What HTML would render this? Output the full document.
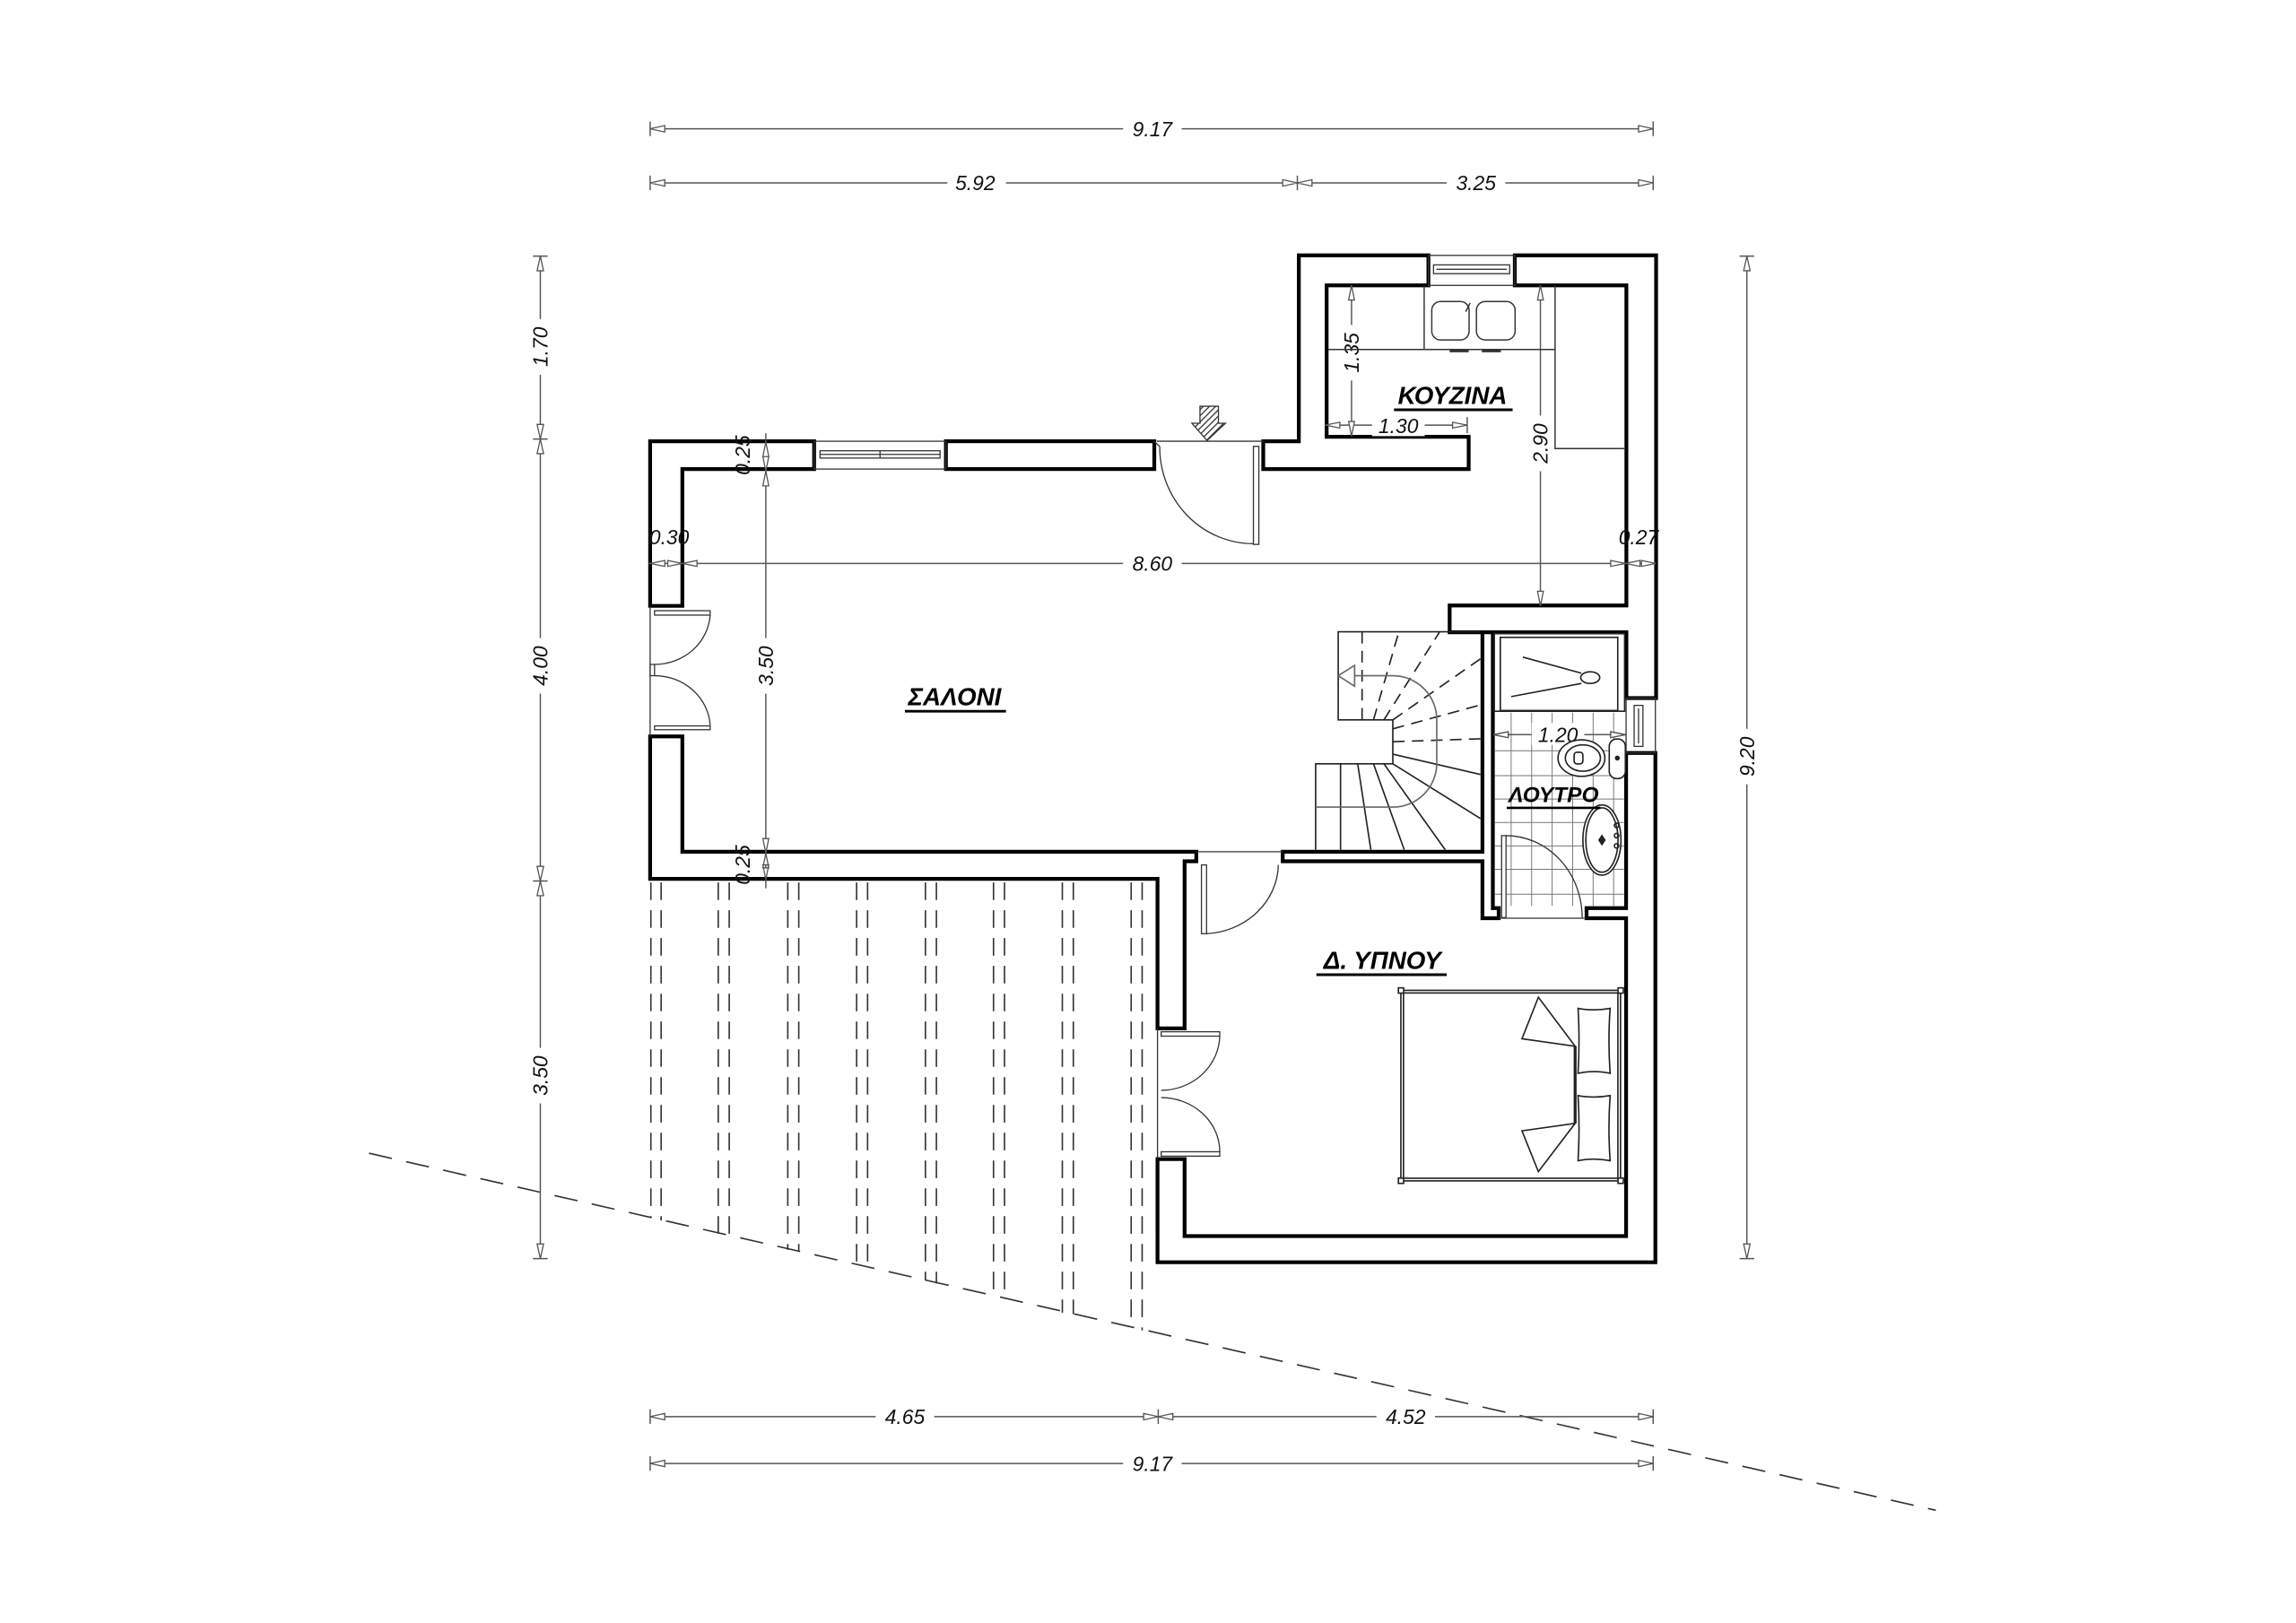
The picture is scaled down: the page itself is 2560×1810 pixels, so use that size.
<!DOCTYPE html>
<html><head><meta charset="utf-8"><style>
html,body{margin:0;padding:0;background:#fff;}
svg{display:block;}
text{font-family:"Liberation Sans",sans-serif;font-style:italic;}
</style></head><body>
<svg width="2560" height="1810" viewBox="0 0 1568 1109" preserveAspectRatio="none" xmlns="http://www.w3.org/2000/svg">
<defs>
<pattern id="hatch" width="3" height="3" patternUnits="userSpaceOnUse" patternTransform="rotate(45)">
<rect width="3" height="3" fill="#fff"/><line x1="0" y1="0" x2="0" y2="3" stroke="#333" stroke-width="1.6"/></pattern>
</defs>
<rect width="1568" height="1109" fill="#fff"/>

<!-- slanted dashed line -->
<line x1="252" y1="788" x2="1322" y2="1032" stroke="#333" stroke-width="1" stroke-dasharray="16 10"/>

<!-- pergola dashed lines -->
<g stroke="#333" stroke-width="1" stroke-dasharray="12 7">
<line x1="444.5" y1="603" x2="444.5" y2="832"/><line x1="451.5" y1="603" x2="451.5" y2="834"/>
<line x1="490.5" y1="603" x2="490.5" y2="843"/><line x1="498" y1="603" x2="498" y2="844"/>
<line x1="538" y1="603" x2="538" y2="854"/><line x1="545.5" y1="603" x2="545.5" y2="855"/>
<line x1="585" y1="603" x2="585" y2="864"/><line x1="592.5" y1="603" x2="592.5" y2="866"/>
<line x1="632" y1="603" x2="632" y2="875"/><line x1="639.5" y1="603" x2="639.5" y2="877"/>
<line x1="678.5" y1="603" x2="678.5" y2="886"/><line x1="686" y1="603" x2="686" y2="887"/>
<line x1="725.5" y1="603" x2="725.5" y2="897"/><line x1="733" y1="603" x2="733" y2="898"/>
<line x1="772.5" y1="603" x2="772.5" y2="907"/><line x1="780" y1="603" x2="780" y2="909"/>
</g>

<!-- walls -->
<g stroke="#000" stroke-width="2.6" fill="#fff" stroke-linejoin="miter">
<path d="M444,301.5 H556 V320.5 H466 V414 H444 Z"/>
<rect x="646" y="301.5" width="142.3" height="19"/>
<path d="M862.7,301.5 H887 V174.5 H975.5 V195 H906 V298.5 H1003 V320.5 H862.7 Z"/>
<path d="M1034.5,174.5 H1131 V477 H1110.7 V432 H990 V413.7 H1110.7 V195 H1034.5 Z"/>
<path d="M444,503.2 H466 V582 H817 V588.5 H809 V702.7 H790.5 V600.5 H444 Z"/>
<path d="M876,582 H1012.4 V432 H1019.5 V620.5 H1023.5 V627.4 H1012.4 V588.5 H876 Z"/>
<path d="M1110.5,514.5 H1130.5 V862.5 H790.5 V792 H809 V844.6 H1110.5 V627.4 H1083.5 V620.5 H1110.5 Z"/>
</g>

<!-- dimension lines -->
<g stroke="#555" stroke-width="0.9" fill="none">
<line x1="444" y1="88" x2="1129" y2="88"/>
<line x1="444" y1="83" x2="444" y2="93"/><line x1="1129" y1="83" x2="1129" y2="93"/>
<line x1="444" y1="125" x2="1129" y2="125"/>
<line x1="444" y1="120" x2="444" y2="130"/><line x1="886" y1="120" x2="886" y2="130"/><line x1="1129" y1="120" x2="1129" y2="130"/>
<line x1="444" y1="968" x2="1129" y2="968"/>
<line x1="444" y1="963" x2="444" y2="973"/><line x1="791" y1="963" x2="791" y2="973"/><line x1="1129" y1="963" x2="1129" y2="973"/>
<line x1="444" y1="1000" x2="1129" y2="1000"/>
<line x1="444" y1="995" x2="444" y2="1005"/><line x1="1129" y1="995" x2="1129" y2="1005"/>
<line x1="369" y1="175" x2="369" y2="860"/>
<line x1="364" y1="175" x2="374" y2="175"/><line x1="364" y1="300" x2="374" y2="300"/><line x1="364" y1="602" x2="374" y2="602"/><line x1="364" y1="860" x2="374" y2="860"/>
<line x1="1193" y1="175" x2="1193" y2="860"/>
<line x1="1188" y1="175" x2="1198" y2="175"/><line x1="1188" y1="860" x2="1198" y2="860"/>
<line x1="443" y1="385" x2="1131" y2="385"/>
<line x1="523" y1="296" x2="523" y2="607"/>
<line x1="923" y1="195" x2="923" y2="298"/>
<line x1="905" y1="290.5" x2="1002" y2="290.5"/><line x1="1002" y1="285" x2="1002" y2="296"/>
<line x1="1052" y1="195" x2="1052" y2="414"/>
<line x1="1020" y1="502" x2="1110" y2="502"/>
</g>
<g stroke="#555" stroke-width="0.8">
<path d="M444,88 l10,-2.2 v4.4z M1129,88 l-10,-2.2 v4.4z M444,125 l10,-2.2 v4.4z M886,125 l-10,-2.2 v4.4z M886,125 l10,-2.2 v4.4z M1129,125 l-10,-2.2 v4.4z M444,968 l10,-2.2 v4.4z M791,968 l-10,-2.2 v4.4z M791,968 l10,-2.2 v4.4z M1129,968 l-10,-2.2 v4.4z M444,1000 l10,-2.2 v4.4z M1129,1000 l-10,-2.2 v4.4z M369,175 l-2.2,10 h4.4z M369,300 l-2.2,-10 h4.4z M369,300 l-2.2,10 h4.4z M369,602 l-2.2,-10 h4.4z M369,602 l-2.2,10 h4.4z M369,860 l-2.2,-10 h4.4z M1193,175 l-2.2,10 h4.4z M1193,860 l-2.2,-10 h4.4z
M444,385 l10,-2 v4z M466,385 l-10,-2 v4z M466,385 l10,-2 v4z M1110,385 l-10,-2 v4z M1110,385 l10,-2 v4z M1131,385 l-10,-2 v4z
M523,322 l-2,10 h4z M523,302 l-2,10 h4z M523,322 l-2,-10 h4z M523,583 l-2,-10 h4z M523,583 l-2,10 h4z M523,601 l-2,-10 h4z
M923,195 l-2,10 h4z M923,298 l-2,-10 h4z M905,290.5 l10,-2 v4z M1002,290.5 l-10,-2 v4z M1052,195 l-2,10 h4z M1052,414 l-2,-10 h4z M1020,502 l10,-2 v4z M1110,502 l-10,-2 v4z" fill="#fff"/>
</g>
<g font-size="14" fill="#111" text-anchor="middle">
<rect x="767" y="80" width="40" height="16" fill="#fff"/><text x="787" y="93">9.17</text>
<rect x="647" y="117" width="40" height="16" fill="#fff"/><text x="666" y="130">5.92</text>
<rect x="988" y="117" width="40" height="16" fill="#fff"/><text x="1008" y="130">3.25</text>
<rect x="598" y="960" width="40" height="16" fill="#fff"/><text x="618" y="973">4.65</text>
<rect x="940" y="960" width="40" height="16" fill="#fff"/><text x="960" y="973">4.52</text>
<rect x="767" y="992" width="40" height="16" fill="#fff"/><text x="787" y="1005">9.17</text>
<rect x="361" y="218" width="16" height="38" fill="#fff"/><text transform="translate(374,237) rotate(-90)">1.70</text>
<rect x="361" y="436" width="16" height="38" fill="#fff"/><text transform="translate(374,455) rotate(-90)">4.00</text>
<rect x="361" y="716" width="16" height="38" fill="#fff"/><text transform="translate(374,735) rotate(-90)">3.50</text>
<rect x="1185" y="498" width="16" height="38" fill="#fff"/><text transform="translate(1198,517) rotate(-90)">9.20</text>
<rect x="767" y="377" width="40" height="16" fill="#fff"/><text x="787" y="390">8.60</text>
<text x="457" y="372">0.30</text><text x="1119" y="372">0.27</text>
<rect x="515" y="436" width="16" height="38" fill="#fff"/><text transform="translate(528,455) rotate(-90)">3.50</text>
<text transform="translate(512,311) rotate(-90)">0.25</text>
<text transform="translate(512,591) rotate(-90)">0.25</text>
<rect x="915" y="222" width="16" height="38" fill="#fff"/><text transform="translate(928,241) rotate(-90)">1.35</text>
<rect x="937" y="283" width="36" height="15" fill="#fff"/><text x="955" y="296">1.30</text>
<rect x="1044" y="284" width="16" height="38" fill="#fff"/><text transform="translate(1057,303) rotate(-90)">2.90</text>
</g>

<!-- windows -->
<g stroke="#333" stroke-width="0.8" fill="none">
<rect x="556" y="301.5" width="90" height="19"/>
<rect x="560" y="308" width="82" height="5"/><line x1="560" y1="310.5" x2="642" y2="310.5"/><line x1="601" y1="308" x2="601" y2="313"/>
<rect x="975.5" y="174.5" width="59" height="20.5"/>
<rect x="979" y="181" width="52" height="6"/><line x1="981" y1="184" x2="1029" y2="184"/>
<rect x="1110.5" y="477" width="20" height="37.5"/>
<rect x="1116" y="482" width="6" height="28"/><line x1="1119" y1="484" x2="1119" y2="508"/>
</g>

<!-- doors -->
<g stroke="#333" stroke-width="0.8" fill="none">
<line x1="790" y1="301.5" x2="863" y2="301.5"/>
<rect x="856" y="305" width="3.7" height="67"/>
<path d="M792,305 A64,66 0 0 0 856,371.5"/>
<line x1="788" y1="301.5" x2="792" y2="305"/>
<line x1="444" y1="414" x2="444" y2="503"/>
<rect x="447" y="417.3" width="38" height="3"/><rect x="447" y="496" width="38" height="2.6"/>
<path d="M485,420 A38,36 0 0 1 447,454"/>
<path d="M447,461.7 A38,36 0 0 1 485,496"/>
<rect x="444" y="454" width="3" height="7.7"/>
<line x1="817" y1="582" x2="876" y2="582"/>
<rect x="820.5" y="591" width="3.5" height="47"/>
<path d="M873,591 A52,48 0 0 1 824,638"/>
<line x1="790.5" y1="702.7" x2="790.5" y2="792"/>
<rect x="793" y="705" width="40" height="3"/><rect x="793" y="787" width="40" height="3"/>
<path d="M833,708 A40,38 0 0 1 793,745"/>
<path d="M793,750 A40,37 0 0 1 833,787"/>
</g>

<!-- entrance arrow -->
<path d="M819.5,277.6 H832.1 V289.2 H836.9 L824.3,301 L814,289.2 H819.5 Z" fill="url(#hatch)" stroke="#333" stroke-width="0.8"/>

<!-- kitchen furniture -->
<g stroke="#333" stroke-width="0.9" fill="none">
<line x1="907" y1="238.8" x2="1062" y2="238.8"/>
<line x1="972.6" y1="195" x2="972.6" y2="238.8"/>
<path d="M1062,195 V306.5 H1110"/>
<rect x="977.8" y="206" width="25.5" height="26.3" rx="6"/>
<rect x="1008.3" y="206" width="26.4" height="26.3" rx="6"/>
<line x1="1001" y1="213" x2="1004" y2="207"/>
<line x1="990" y1="240" x2="1003" y2="240" stroke-width="1.5"/><line x1="1012" y1="240" x2="1025" y2="240" stroke-width="1.5"/>
</g>

<!-- bath tiles -->
<g stroke="#777" stroke-width="0.6">
<line x1="1021" y1="513" x2="1109" y2="513"/><line x1="1021" y1="530" x2="1109" y2="530"/><line x1="1021" y1="546" x2="1109" y2="546"/><line x1="1021" y1="562" x2="1109" y2="562"/><line x1="1021" y1="578" x2="1109" y2="578"/><line x1="1021" y1="594" x2="1109" y2="594"/><line x1="1021" y1="611" x2="1109" y2="611"/>
<line x1="1032" y1="487" x2="1032" y2="619"/><line x1="1046" y1="487" x2="1046" y2="619"/><line x1="1060" y1="487" x2="1060" y2="619"/><line x1="1074" y1="487" x2="1074" y2="619"/><line x1="1088" y1="487" x2="1088" y2="619"/><line x1="1102" y1="487" x2="1102" y2="619"/>
</g>
<g stroke="#555" stroke-width="0.8" fill="none">
<line x1="1020" y1="502" x2="1110" y2="502"/>
<path d="M1020,502 l10,-2 v4z M1110,502 l-10,-2 v4z" fill="#fff"/>
</g>
<rect x="1046" y="494" width="36" height="15" fill="#fff"/>
<text x="1064" y="507" font-size="14" text-anchor="middle" fill="#111">1.20</text>
<g stroke="#222" stroke-width="1" fill="#fff">
<rect x="1020.5" y="433" width="89" height="53"/>
<rect x="1024.6" y="435.5" width="80.2" height="50" fill="none"/>
<line x1="1040" y1="449" x2="1080" y2="460" fill="none"/>
<line x1="1032" y1="476" x2="1080" y2="467" fill="none"/>
<ellipse cx="1086" cy="463" rx="6.5" ry="4"/>
<rect x="1099" y="505" width="11" height="27" rx="5"/>
<circle cx="1104.5" cy="518" r="1.2" fill="#222"/>
<ellipse cx="1080" cy="518" rx="16" ry="12.5"/>
<ellipse cx="1081" cy="518" rx="12" ry="9" fill="none"/>
<rect x="1075" y="514" width="6" height="8" rx="2" fill="none"/>
<ellipse cx="1094" cy="574" rx="13" ry="24"/>
<ellipse cx="1094" cy="574" rx="11" ry="22" fill="none"/>
<circle cx="1104" cy="564" r="1.5" fill="none"/><circle cx="1104" cy="571" r="1.5" fill="none"/><circle cx="1104" cy="578" r="1.5" fill="none"/>
<path d="M1094,571 l2,3 l-2,3 l-2,-3z" fill="#222"/>
</g>
<!-- bath door -->
<g stroke="#333" stroke-width="0.8" fill="#fff">
<rect x="1025.5" y="571" width="3" height="56"/>
<path d="M1028.5,571 A52,56 0 0 1 1080.5,627" fill="none"/>
<line x1="1023.5" y1="627.4" x2="1083.5" y2="627.4"/>
</g>

<!-- stairs -->
<g stroke="#222" stroke-width="1" fill="none">
<path d="M1011,431.7 H913.9 V491.9 H951.2 V521.9 H898.5 V580.7"/>
<g stroke-dasharray="8 5">
<line x1="930.2" y1="431.7" x2="930.2" y2="491.9"/>
<line x1="938" y1="491.9" x2="955.3" y2="431.7"/>
<line x1="945.1" y1="491.9" x2="983.2" y2="431.7"/>
<line x1="951.2" y1="491.9" x2="1011" y2="450.2"/>
<line x1="951.2" y1="498" x2="1011" y2="481.7"/>
<line x1="951.2" y1="506.8" x2="1011" y2="504.8"/>
</g>
<line x1="951.2" y1="515.3" x2="1011" y2="529.2"/>
<line x1="951.2" y1="521.9" x2="1011" y2="559.3"/>
<line x1="945.1" y1="521.9" x2="987" y2="580.7"/>
<line x1="938" y1="521.9" x2="959" y2="580.7"/>
<line x1="927.2" y1="521.9" x2="936.2" y2="580.7"/>
<line x1="915.5" y1="521.9" x2="915.5" y2="580.7"/>
<path d="M913.9,461.7 H951.2 A30,30 0 0 1 981.2,491.9 V521.9 A30,30 0 0 1 951.2,551.5 H898.5" stroke="#666"/>
<path d="M913.9,461.7 L925.1,454.7 V468.9 Z" stroke="#666" fill="#fff"/>
</g>

<!-- bed -->
<g stroke="#222" stroke-width="1" fill="#fff">
<rect x="956.7" y="676.7" width="150" height="130.2"/>
<rect x="958.5" y="678.5" width="146.4" height="126.6" fill="none"/>
<rect x="955" y="675" width="3.6" height="3.6"/><rect x="1105" y="675" width="3.6" height="3.6"/>
<rect x="955" y="805" width="3.6" height="3.6"/><rect x="1105" y="805" width="3.6" height="3.6"/>
<path d="M1077.7,689 Q1088,691 1099.6,689 Q1098,711 1099.6,733.4 Q1088,731 1077.7,733.4 Q1079,711 1077.7,689Z"/>
<path d="M1077.7,748.6 Q1088,750.6 1099.6,748.6 Q1098,771 1099.6,793.1 Q1088,791 1077.7,793.1 Q1079,771 1077.7,748.6Z"/>
<path d="M1050.6,681.4 L1039.4,709.8 L1075.7,714.9 Z"/>
<path d="M1075.7,767.6 L1039.4,772.7 L1050.6,800.6 Z"/>
<path d="M1075.7,714.9 V767.6" stroke-width="2" fill="none"/>
</g>

<!-- room labels -->
<g font-weight="bold" fill="#000" text-anchor="middle">
<text x="652" y="482" font-size="17">ΣΑΛΟΝΙ</text>
<line x1="618" y1="486" x2="687" y2="486" stroke="#000" stroke-width="1.8"/>
<text x="992" y="276" font-size="17">ΚΟΥΖΙΝΑ</text>
<line x1="952" y1="280" x2="1033" y2="280" stroke="#000" stroke-width="1.8"/>
<text x="1061" y="548" font-size="15">ΛΟΥΤΡΟ</text>
<line x1="1029" y1="552" x2="1093" y2="552" stroke="#000" stroke-width="1.6"/>
<text x="944" y="662" font-size="17">Δ. ΥΠΝΟΥ</text>
<line x1="899" y1="666" x2="988" y2="666" stroke="#000" stroke-width="1.8"/>
</g>
</svg>
</body></html>
